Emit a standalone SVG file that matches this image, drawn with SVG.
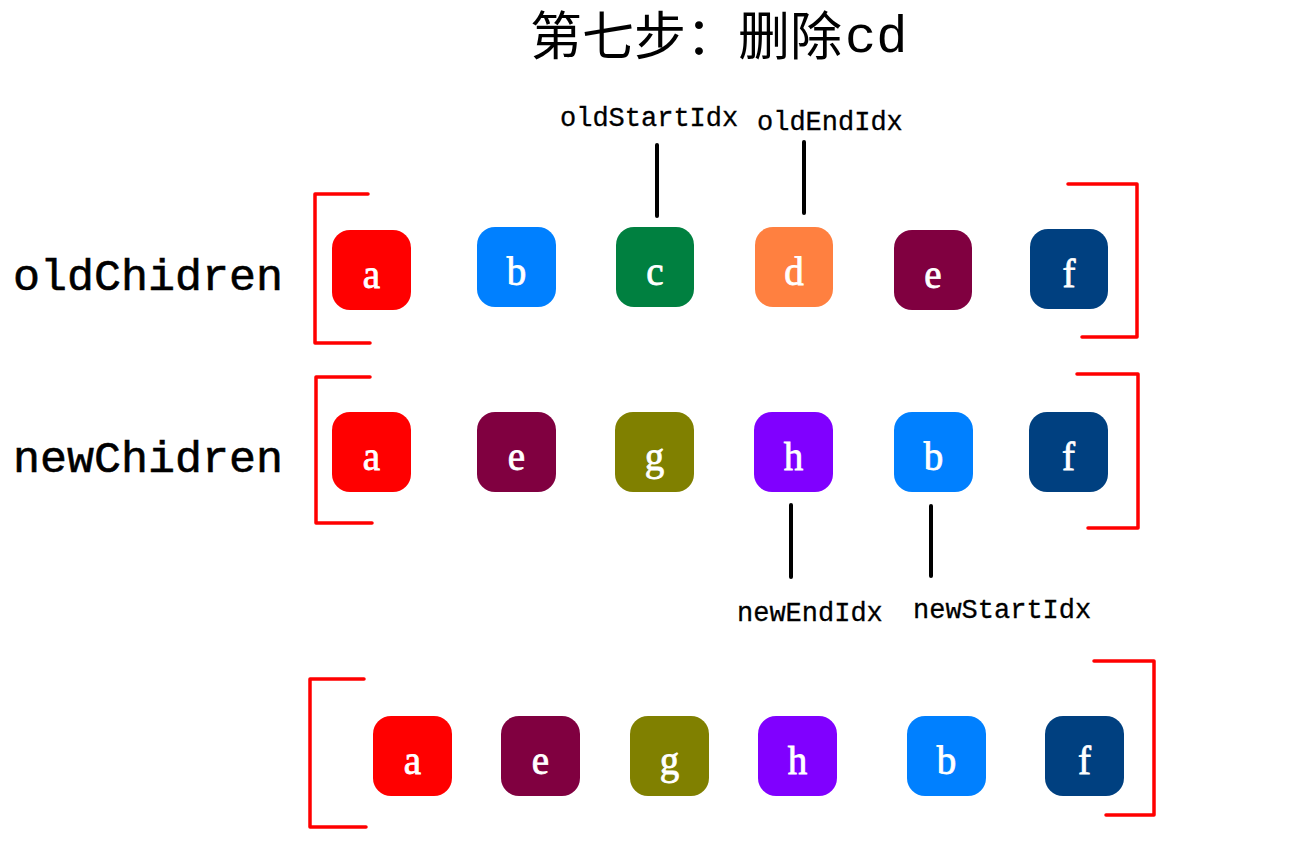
<svg xmlns="http://www.w3.org/2000/svg" width="1299" height="843" viewBox="0 0 1299 843">
<style>
.bg{fill:#ffffff}
.box{stroke:none}
.lt{font-family:"Liberation Serif","DejaVu Serif",serif;font-size:39px;fill:#ffffff;stroke:#ffffff;stroke-width:0.8;text-anchor:middle}
.mono{font-family:"Liberation Mono","DejaVu Sans Mono",monospace;fill:#000000}
.lbl{font-size:45px;stroke:#000000;stroke-width:0.6}
.idx{font-size:27px;stroke:#000000;stroke-width:0.3}
.br{fill:none;stroke:#ff0000;stroke-width:3.5;stroke-linecap:round;stroke-linejoin:round}
.ptr{stroke:#000000;stroke-width:4;stroke-linecap:round}
.ca{fill:#ff0000}.cb{fill:#0080ff}.cc{fill:#008040}.cd{fill:#ff8040}.ce{fill:#800040}.cf{fill:#004080}.cg{fill:#808000}.ch{fill:#8000ff}
</style>
<rect class="bg" x="0" y="0" width="1299" height="843"/>
<g id="title">
<text x="530" y="55" font-family="'Noto Sans CJK SC','Noto Sans CJK JP',sans-serif" font-size="52">第七步：删除</text>
<text x="845" y="52" class="mono" font-size="52">cd</text>
</g>
<g id="row-labels">
<text class="mono lbl" x="13" y="290">oldChidren</text>
<text class="mono lbl" x="13" y="472">newChidren</text>
</g>
<g id="brackets">
<path class="br" d="M368,194 H315 V343 H370"/>
<path class="br" d="M1068,184 H1137 V337 H1082"/>
<path class="br" d="M370,377 H316 V523 H372"/>
<path class="br" d="M1077,374 H1138 V528 H1088"/>
<path class="br" d="M364,679 H310 V827 H366"/>
<path class="br" d="M1094,661 H1154 V815 H1106"/>
</g>
<g id="connectors">
<line class="ptr" x1="657" y1="145" x2="657" y2="216"/>
<line class="ptr" x1="804" y1="142" x2="804" y2="213"/>
<line class="ptr" x1="791" y1="505" x2="791" y2="577"/>
<line class="ptr" x1="931" y1="506" x2="931" y2="576"/>
</g>
<g id="pointer-labels">
<text class="mono idx" x="560" y="126">oldStartIdx</text>
<text class="mono idx" x="757" y="130">oldEndIdx</text>
<text class="mono idx" x="737" y="621">newEndIdx</text>
<text class="mono idx" x="913" y="618">newStartIdx</text>
</g>
<g id="old-a"><rect class="box ca" x="332" y="230" width="79" height="80" rx="18"/><text class="lt" x="371.5" y="288">a</text></g>
<g id="old-b"><rect class="box cb" x="477" y="227" width="79" height="80" rx="18"/><text class="lt" x="516.5" y="285">b</text></g>
<g id="old-c"><rect class="box cc" x="616" y="227" width="78" height="80" rx="18"/><text class="lt" x="655" y="285">c</text></g>
<g id="old-d"><rect class="box cd" x="755" y="227" width="78" height="80" rx="18"/><text class="lt" x="794" y="285">d</text></g>
<g id="old-e"><rect class="box ce" x="894" y="230" width="78" height="80" rx="18"/><text class="lt" x="933" y="288">e</text></g>
<g id="old-f"><rect class="box cf" x="1030" y="229" width="78" height="80" rx="18"/><text class="lt" x="1069" y="287">f</text></g>
<g id="new-a"><rect class="box ca" x="332" y="412" width="79" height="80" rx="18"/><text class="lt" x="371.5" y="470">a</text></g>
<g id="new-e"><rect class="box ce" x="477" y="412" width="79" height="80" rx="18"/><text class="lt" x="516.5" y="470">e</text></g>
<g id="new-g"><rect class="box cg" x="615" y="412" width="79" height="80" rx="18"/><text class="lt" x="654.5" y="470">g</text></g>
<g id="new-h"><rect class="box ch" x="754" y="412" width="79" height="80" rx="18"/><text class="lt" x="793.5" y="470">h</text></g>
<g id="new-b"><rect class="box cb" x="894" y="412" width="79" height="80" rx="18"/><text class="lt" x="933.5" y="470">b</text></g>
<g id="new-f"><rect class="box cf" x="1029" y="412" width="79" height="80" rx="18"/><text class="lt" x="1068.5" y="470">f</text></g>
<g id="res-a"><rect class="box ca" x="373" y="716" width="79" height="80" rx="18"/><text class="lt" x="412.5" y="774">a</text></g>
<g id="res-e"><rect class="box ce" x="501" y="716" width="79" height="80" rx="18"/><text class="lt" x="540.5" y="774">e</text></g>
<g id="res-g"><rect class="box cg" x="630" y="716" width="79" height="80" rx="18"/><text class="lt" x="669.5" y="774">g</text></g>
<g id="res-h"><rect class="box ch" x="758" y="716" width="79" height="80" rx="18"/><text class="lt" x="797.5" y="774">h</text></g>
<g id="res-b"><rect class="box cb" x="907" y="716" width="79" height="80" rx="18"/><text class="lt" x="946.5" y="774">b</text></g>
<g id="res-f"><rect class="box cf" x="1045" y="716" width="79" height="80" rx="18"/><text class="lt" x="1084.5" y="774">f</text></g>
</svg>
